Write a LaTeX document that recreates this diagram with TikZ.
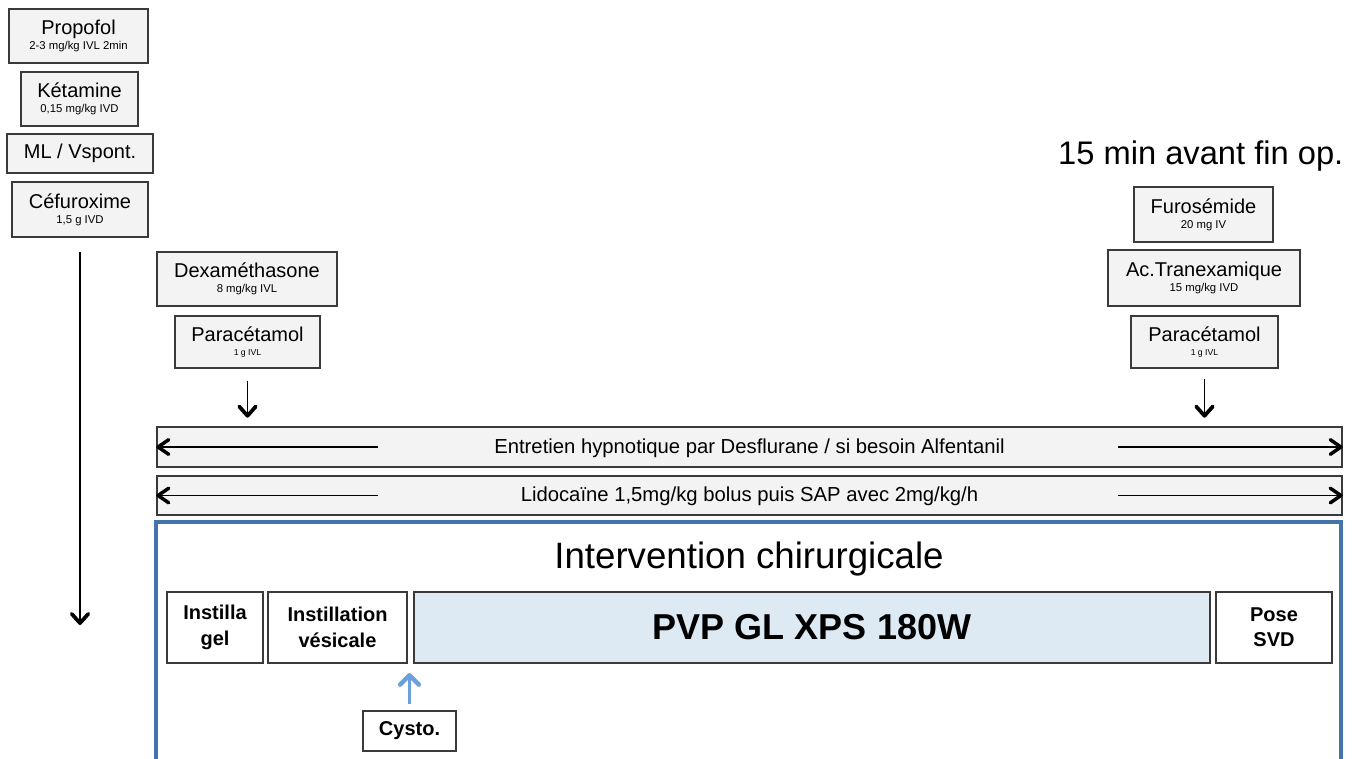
\documentclass[tikz,border=0pt]{standalone}
\usepackage{fontspec}
\setmainfont{Liberation Sans}
\usepackage{tikz}
\usetikzlibrary{positioning}
\usetikzlibrary{arrows.meta}

\definecolor{boxgray}{RGB}{243,243,243}
\definecolor{linegray}{RGB}{58,58,58}
\definecolor{frameblue}{RGB}{70,116,170}
\definecolor{cystoblue}{RGB}{108,160,218}
\definecolor{pvpblue}{RGB}{221,233,243}

\newcommand{\dose}[1]{{\fontsize{8.5}{10}\selectfont #1}}
\newcommand{\tinydose}[1]{{\fontsize{6.5}{8}\selectfont #1}}

\begin{document}
\begin{tikzpicture}[x=0.75pt,y=-0.75pt,
	drug/.style={draw=linegray,fill=boxgray,line width=1pt,inner sep=0pt,align=center,font=\fontsize{15}{11}\selectfont},
	stepbox/.style={draw=linegray,fill=white,line width=1pt,inner sep=0pt,align=center,font=\bfseries\fontsize{15}{19}\selectfont},
	bar/.style={draw=linegray,fill=boxgray,line width=1pt,inner sep=0pt,text depth=1.5pt,font=\fontsize{15.2}{17}\selectfont},
	barrow/.style={line width=0.8pt,-{Straight Barb[length=8pt,width=11pt,line width=2.6pt,round]}},
	downarrow/.style={line width=1.2pt,-{Straight Barb[length=7pt,width=12.5pt,line width=2.8pt,round]}},
	box/.style n args={4}{minimum width={(#3-#1)*0.75pt},minimum height={(#4-#2)*0.75pt},at={({(#1+#3)/2},{(#2+#4)/2})}}]
	
	\useasboundingbox (0,0) rectangle (1361,758);
	\clip (0,0) rectangle (1361,758);
	
	%induction
	\node[drug,box={9}{9}{148}{63}] (propofol) {Propofol\\\dose{2-3 mg/kg IVL 2min}};
	\node[drug,box={21}{72}{138}{126}] (ketamine) {Kétamine\\\dose{0,15 mg/kg IVD}};
	\node[drug,box={7}{134}{153}{173}] (ml) {ML / Vspont.};
	\node[drug,box={12}{182}{148}{237}] (cefuroxime) {Céfuroxime\\\dose{1,5 g IVD}};
	
	\coordinate (induction_end) at (80,625);
	\draw[downarrow,shorten <=11pt] (cefuroxime.south) -- (induction_end);
	
	%start of surgery
	\node[drug,box={157}{252}{337}{306}] (dexamethasone) {Dexaméthasone\\\dose{8 mg/kg IVL}};
	\node[drug,box={175}{316}{320}{368}] (para_start) {Paracétamol\\\tinydose{1 g IVL}};
	
	%end of surgery
	\node[anchor=east,font=\fontsize{24.5}{28}\selectfont] (fin_op) at (1348,156) {15 min avant fin op.};
	\node[drug,box={1134}{187}{1273}{242}] (furosemide) {Furosémide\\\dose{20 mg IV}};
	\node[drug,box={1108}{250}{1300}{306}] (tranexamique) {Ac.Tranexamique\\\dose{15 mg/kg IVD}};
	\node[drug,box={1131}{316}{1278}{368}] (para_end) {Paracétamol\\\tinydose{1 g IVL}};
	
	%maintenance
	\node[bar,box={157}{427}{1342}{467}] (entretien) {Entretien hypnotique par Desflurane / si besoin Alfentanil};
	\node[bar,box={157}{476}{1342}{515}] (lidocaine) {Lidocaïne 1,5mg/kg bolus puis SAP avec 2mg/kg/h};
	
	\coordinate (entretien_l) at (378,447);
	\coordinate (entretien_r) at (1118,447);
	\coordinate (lidocaine_l) at (378,495.5);
	\coordinate (lidocaine_r) at (1118,495.5);
	\foreach \b in {entretien,lidocaine} {
		\draw[barrow] (\b_l) -- (\b.west);
		\draw[barrow] (\b_r) -- (\b.east);
	}
	
	\draw[downarrow,shorten <=9pt,shorten >=6.5pt] (para_start.south) -- (para_start.south |- entretien.north);
	\draw[downarrow,shorten <=8pt,shorten >=6.5pt] (para_end.south) -- (para_end.south |- entretien.north);
	
	%surgery
	\draw[frameblue,line width=2.6pt] (156,780) |- (1341,522) -- (1341,780);
	\node[font=\fontsize{27.5}{30}\selectfont] (intervention) at (749,559) {Intervention chirurgicale};
	
	\node[stepbox,box={167}{592}{263}{663}] (gel) {Instilla\\gel};
	\node[stepbox,box={268}{592}{407}{663}] (vesicale) {Instillation\\vésicale};
	\node[stepbox,fill=pvpblue,font=\bfseries\fontsize{27}{30}\selectfont,box={414}{592}{1210}{663}] (pvp) {PVP GL XPS 180W};
	\node[stepbox,box={1216}{592}{1332}{663}] (svd) {Pose\\SVD};
	
	\node[stepbox,box={363}{711}{456}{751}] (cysto) {Cysto.};
	\draw[cystoblue,line width=2.8pt,-{Straight Barb[length=7pt,width=14pt,line width=3.4pt,round]},shorten <=4.5pt,shorten >=7pt] (cysto.north) -- (cysto.north |- pvp.south);

\end{tikzpicture}
\end{document}
